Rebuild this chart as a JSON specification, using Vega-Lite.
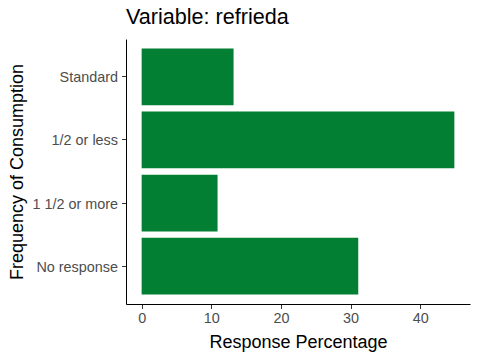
{
  "$schema": "https://vega.github.io/schema/vega-lite/v6.json",
  "width": 344,
  "height": 265,
  "autosize": {"type": "none"},
  "padding": {"left": 126, "top": 39, "right": 10, "bottom": 56},
  "background": "white",
  "config": {
    "view": {"stroke": null},
    "font": "Liberation Sans"
  },
  "title": {
    "text": "Variable: refrieda",
    "anchor": "start",
    "frame": "group",
    "fontSize": 21.6,
    "fontWeight": "normal",
    "color": "black",
    "font": "Liberation Sans",
    "offset": 10
  },
  "data": {
    "values": [
      {"freq": "Standard", "pct": 13.2},
      {"freq": "1/2 or less", "pct": 44.9},
      {"freq": "1 1/2 or more", "pct": 10.9},
      {"freq": "No response", "pct": 31.1}
    ]
  },
  "mark": {"type": "bar", "color": "#037F33"},
  "encoding": {
    "y": {
      "field": "freq",
      "type": "nominal",
      "sort": ["Standard", "1/2 or less", "1 1/2 or more", "No response"],
      "scale": {"paddingInner": 0.1, "paddingOuter": 0.15},
      "axis": {
        "title": "Frequency of Consumption",
        "titleFontSize": 18,
        "titleFontWeight": "normal",
        "titleColor": "black",
        "titlePadding": 5,
        "labelFontSize": 14.4,
        "labelColor": "#4D4D4D",
        "labelPadding": 4,
        "labelBaseline": "middle",
        "labelOffset": 1.5,
        "tickColor": "#333333",
        "tickSize": 4.5,
        "domainColor": "black",
        "grid": false
      }
    },
    "x": {
      "field": "pct",
      "type": "quantitative",
      "scale": {"domain": [-2.245, 47.145], "nice": false, "zero": false},
      "axis": {
        "title": "Response Percentage",
        "values": [0, 10, 20, 30, 40],
        "titleFontSize": 18,
        "titleFontWeight": "normal",
        "titleColor": "black",
        "titlePadding": 9,
        "labelFontSize": 14.4,
        "labelColor": "#4D4D4D",
        "labelPadding": 3,
        "tickColor": "#333333",
        "tickSize": 4.5,
        "domainColor": "black",
        "grid": false
      }
    }
  }
}
